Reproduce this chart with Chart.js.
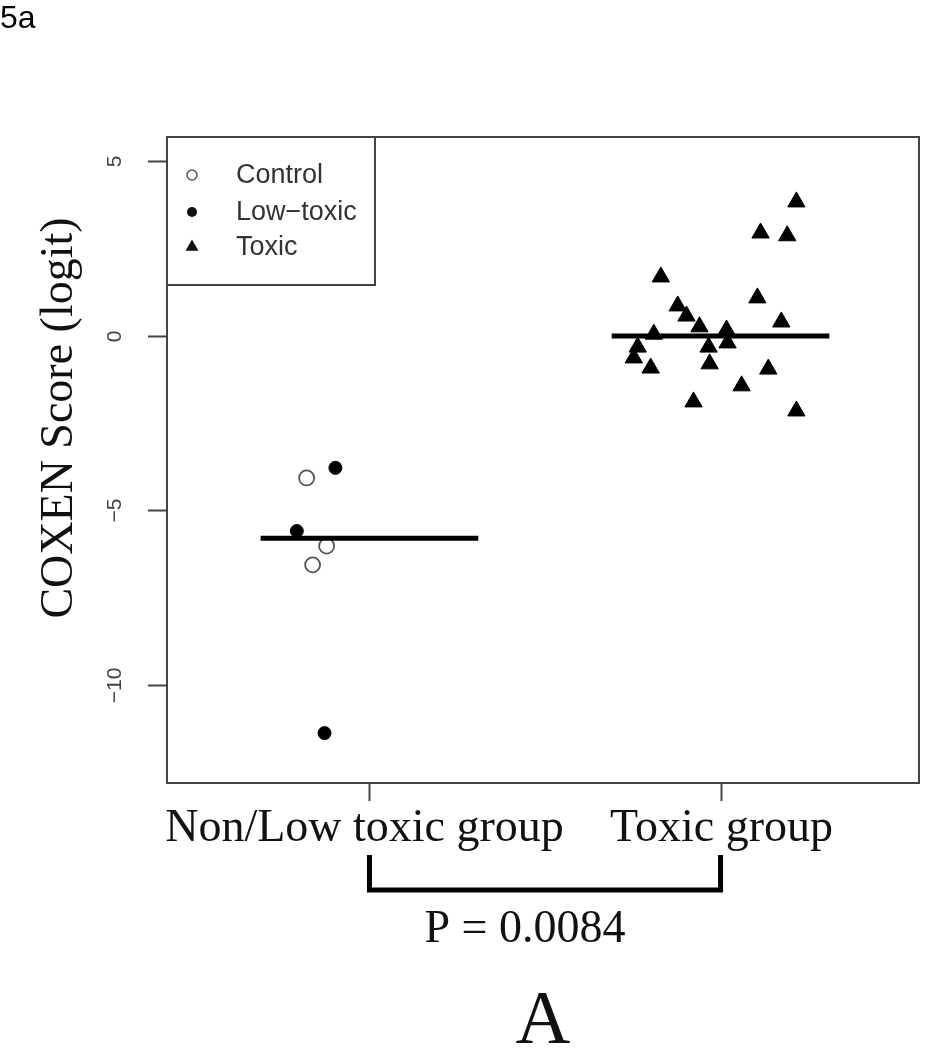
<!DOCTYPE html>
<html>
<head>
<meta charset="utf-8">
<script src="https://cdn.jsdelivr.net/npm/chart.js@4.4.1/dist/chart.umd.min.js"></script>
<style>
  html, body { margin: 0; padding: 0; background: #ffffff; }
  #wrap { position: relative; width: 930px; height: 1050px; }
  canvas { display: block; }
</style>
</head>
<body>
<div id="wrap"><canvas id="c" width="930" height="1050"></canvas></div>
<script>
// ---- data ----
const groupLabels = ["Non/Low toxic group", "Toxic group"];
const groupPositions = [1, 2];
const yTickValues = [-10, -5, 0, 5];
const yTickLabels = ["\u221210", "\u22125", "0", "5"];

const controlX = [0.821, 0.878, 0.838];
const controlY = [-4.07, -6.02, -6.56];

const lowToxicX = [0.903, 0.793, 0.872];
const lowToxicY = [-3.78, -5.59, -11.38];

const toxicX = [2.216, 2.114, 2.190, 1.830, 2.105, 1.878, 1.903, 2.173, 1.940, 2.017, 1.810,
                1.764, 1.753, 1.966, 2.020, 1.801, 1.969, 2.136, 2.060, 1.923, 2.216];
const toxicY = [3.84, 2.95, 2.87, 1.69, 1.09, 0.86, 0.57, 0.40, 0.26, 0.17, 0.05,
                -0.32, -0.63, -0.32, -0.20, -0.92, -0.80, -0.95, -1.43, -1.89, -2.15];

const groupMedians = [-5.80, 0.0];
const legendLabels = ["Control", "Low\u2212toxic", "Toxic"];
const pValueText = "P = 0.0084";
const yTitle = "COXEN Score (logit)";
const panelLetter = "A";
const figureTag = "5a";

// ---- build ----
const pts = (xs, ys) => xs.map((x, i) => ({ x: x, y: ys[i] }));
const medianHalfWidth = 0.31;
const medianLine = (g) => [
  { x: groupPositions[g] - medianHalfWidth, y: groupMedians[g] },
  { x: groupPositions[g] + medianHalfWidth, y: groupMedians[g] }
];

const SERIF = '"Liberation Serif", "DejaVu Serif", serif';
const SANS = '"Liberation Sans", Arial, sans-serif';
const FRAME = '#444444';

const decorPlugin = {
  id: 'decor',
  afterDraw(chart) {
    const ctx = chart.ctx;
    const xs = chart.scales.x, ys = chart.scales.y;
    const a = chart.chartArea;
    ctx.save();

    // frame
    ctx.strokeStyle = FRAME;
    ctx.lineWidth = 2;
    ctx.strokeRect(a.left, a.top, a.right - a.left, a.bottom - a.top);

    // y ticks + labels
    ctx.fillStyle = '#444444';
    ctx.font = '21px ' + SANS;
    yTickValues.forEach((v, i) => {
      const py = Math.round(ys.getPixelForValue(v)) + 0.5;
      ctx.beginPath();
      ctx.moveTo(a.left - 19, py);
      ctx.lineTo(a.left, py);
      ctx.stroke();
      ctx.save();
      ctx.translate(121, py);
      ctx.rotate(-Math.PI / 2);
      ctx.textAlign = 'center';
      ctx.textBaseline = 'alphabetic';
      ctx.fillText(yTickLabels[i], 0, 0);
      ctx.restore();
    });

    // x ticks + labels
    ctx.fillStyle = '#111111';
    ctx.font = '46px ' + SERIF;
    groupPositions.forEach((v, i) => {
      const px = Math.round(xs.getPixelForValue(v)) + 0.5;
      ctx.beginPath();
      ctx.moveTo(px, a.bottom);
      ctx.lineTo(px, a.bottom + 18);
      ctx.stroke();
      ctx.textAlign = 'center';
      ctx.textBaseline = 'alphabetic';
      ctx.fillText(groupLabels[i], px - (i === 0 ? 5 : 0), 841);
    });

    // y title
    ctx.save();
    ctx.translate(72, 418);
    ctx.rotate(-Math.PI / 2);
    ctx.textAlign = 'center';
    ctx.textBaseline = 'alphabetic';
    ctx.font = '46px ' + SERIF;
    ctx.fillText(yTitle, 0, 0);
    ctx.restore();

    // legend box
    ctx.strokeStyle = FRAME;
    ctx.lineWidth = 2;
    ctx.strokeRect(a.left, a.top, 208, 148);
    const rows = [175, 212, 247];
    const mx = 192;
    ctx.beginPath();
    ctx.arc(mx, rows[0], 5, 0, Math.PI * 2);
    ctx.lineWidth = 1.5; ctx.strokeStyle = '#555555'; ctx.stroke();
    ctx.beginPath();
    ctx.arc(mx, rows[1], 5, 0, Math.PI * 2);
    ctx.fillStyle = '#111111'; ctx.fill();
    const r = 7.5;
    ctx.beginPath();
    ctx.moveTo(mx, rows[2] - r);
    ctx.lineTo(mx + r * 0.866, rows[2] + r / 2);
    ctx.lineTo(mx - r * 0.866, rows[2] + r / 2);
    ctx.closePath(); ctx.fill();
    ctx.fillStyle = '#333333';
    ctx.font = '27px ' + SANS;
    ctx.textAlign = 'left';
    ctx.textBaseline = 'middle';
    legendLabels.forEach((t, i) => ctx.fillText(t, 236, rows[i] + 1));

    // bracket
    const b1 = xs.getPixelForValue(groupPositions[0]);
    const b2 = xs.getPixelForValue(groupPositions[1]);
    ctx.strokeStyle = '#000000';
    ctx.lineWidth = 5;
    ctx.lineJoin = 'miter';
    ctx.beginPath();
    ctx.moveTo(b1, 855);
    ctx.lineTo(b1, 890);
    ctx.lineTo(b2, 890);
    ctx.lineTo(b2, 855);
    ctx.stroke();

    // p value
    ctx.fillStyle = '#111111';
    ctx.font = '46px ' + SERIF;
    ctx.textAlign = 'center';
    ctx.textBaseline = 'alphabetic';
    ctx.fillText(pValueText, 525, 942);

    // panel letter
    ctx.font = '76px ' + SERIF;
    ctx.fillText(panelLetter, 543, 1043);

    // figure tag
    ctx.font = '32px ' + SANS;
    ctx.textAlign = 'left';
    ctx.fillStyle = '#000000';
    ctx.fillText(figureTag, 0, 28);

    ctx.restore();
  }
};

new Chart(document.getElementById('c'), {
  type: 'scatter',
  data: {
    datasets: [
      { label: 'median1', type: 'line', data: medianLine(0), borderColor: '#000000', borderWidth: 5,
        pointRadius: 0, fill: false, order: 0 },
      { label: 'median2', type: 'line', data: medianLine(1), borderColor: '#000000', borderWidth: 5,
        pointRadius: 0, fill: false, order: 0 },
      { label: legendLabels[0], data: pts(controlX, controlY), pointStyle: 'circle', pointRadius: 7.5,
        backgroundColor: 'rgba(255,255,255,0)', borderColor: '#555555', borderWidth: 1.8, order: 1 },
      { label: legendLabels[1], data: pts(lowToxicX, lowToxicY), pointStyle: 'circle', pointRadius: 6.5,
        backgroundColor: '#000000', borderColor: '#000000', borderWidth: 1, order: 1 },
      { label: legendLabels[2], data: pts(toxicX, toxicY), pointStyle: 'triangle', pointRadius: 10,
        backgroundColor: '#000000', borderColor: '#000000', borderWidth: 1, order: 1 }
    ]
  },
  options: {
    responsive: false,
    animation: false,
    devicePixelRatio: 1,
    layout: { padding: { left: 167, top: 137, right: 9, bottom: 267 } },
    plugins: { legend: { display: false }, tooltip: { enabled: false } },
    scales: {
      x: { type: 'linear', display: false, min: 0.4233, max: 2.5653 },
      y: { type: 'linear', display: false, min: -12.81, max: 5.70 }
    }
  },
  plugins: [decorPlugin]
});
</script>
</body>
</html>
